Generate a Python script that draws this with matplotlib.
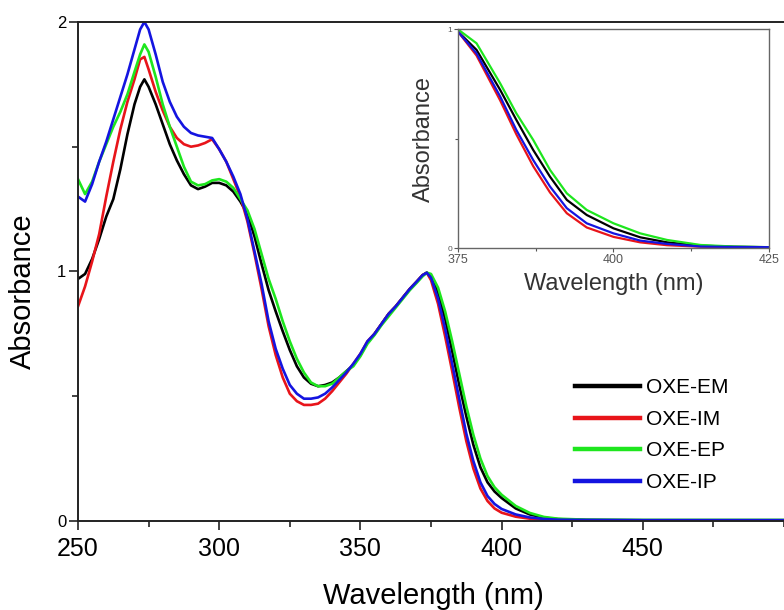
"""UV-vis absorbance spectra of the OXE compounds, with a zoomed inset of the band edge."""
import matplotlib
matplotlib.use("Agg")
import matplotlib.pyplot as plt
from matplotlib.ticker import MultipleLocator

plt.rcParams["font.family"] = ["Liberation Sans", "DejaVu Sans"]

# main spectra (absorbance)
wavelength = [250, 252.5, 255, 257.5, 260, 262.5, 265, 267.5, 270, 272, 273.5, 275, 277.5,
              280, 282.5, 285, 287.5, 290, 292.5, 295, 297.5, 300, 302.5, 305, 307.5, 310,
              312.5, 315, 317.5, 320, 322.5, 325, 327.5, 330, 332.5, 335, 337.5, 340, 342.5,
              345, 347.5, 350, 352.5, 355, 357.5, 360, 362.5, 365, 367.5, 370, 372, 373.5,
              375, 377.5, 380, 382.5, 385, 387.5, 390, 392.5, 395, 397.5, 400, 405, 410,
              415, 420, 430, 450, 475, 500]

oxe_em = [0.97, 0.99, 1.05, 1.13, 1.22, 1.29, 1.41, 1.55, 1.67, 1.74, 1.77, 1.74, 1.67,
          1.59, 1.51, 1.445, 1.39, 1.345, 1.33, 1.34, 1.355, 1.355, 1.345, 1.32, 1.28, 1.23,
          1.14, 1.03, 0.925, 0.84, 0.76, 0.685, 0.62, 0.575, 0.55, 0.54, 0.545, 0.555, 0.575,
          0.60, 0.625, 0.665, 0.715, 0.75, 0.79, 0.83, 0.86, 0.895, 0.93, 0.96, 0.985, 0.995,
          0.98, 0.915, 0.81, 0.68, 0.545, 0.42, 0.305, 0.215, 0.155, 0.118, 0.092, 0.05, 0.026,
          0.013, 0.007, 0.004, 0.003, 0.003, 0.003]

oxe_im = [0.86, 0.94, 1.04, 1.15, 1.30, 1.44, 1.57, 1.68, 1.77, 1.85, 1.86, 1.81, 1.72,
          1.645, 1.58, 1.535, 1.51, 1.50, 1.505, 1.515, 1.53, 1.49, 1.44, 1.37, 1.30, 1.20,
          1.07, 0.93, 0.78, 0.665, 0.575, 0.51, 0.48, 0.465, 0.465, 0.47, 0.49, 0.52, 0.555,
          0.59, 0.63, 0.67, 0.72, 0.75, 0.79, 0.83, 0.86, 0.895, 0.93, 0.96, 0.985, 0.995,
          0.965, 0.87, 0.74, 0.60, 0.455, 0.32, 0.21, 0.13, 0.08, 0.05, 0.033, 0.017, 0.009,
          0.005, 0.003, 0.002, 0.002, 0.002, 0.002]

oxe_ep = [1.37, 1.31, 1.36, 1.44, 1.51, 1.58, 1.64, 1.71, 1.80, 1.87, 1.91, 1.88, 1.78,
          1.67, 1.58, 1.50, 1.42, 1.36, 1.345, 1.35, 1.365, 1.37, 1.36, 1.335, 1.29, 1.245,
          1.17, 1.07, 0.97, 0.89, 0.80, 0.72, 0.65, 0.595, 0.555, 0.54, 0.54, 0.55, 0.575,
          0.60, 0.62, 0.66, 0.71, 0.745, 0.785, 0.82, 0.855, 0.89, 0.925, 0.955, 0.98, 0.995,
          0.99, 0.935, 0.84, 0.72, 0.59, 0.46, 0.345, 0.25, 0.18, 0.135, 0.105, 0.06, 0.032,
          0.016, 0.009, 0.005, 0.004, 0.004, 0.004]

oxe_ip = [1.30, 1.28, 1.35, 1.44, 1.52, 1.61, 1.70, 1.79, 1.89, 1.97, 2.00, 1.97, 1.87,
          1.76, 1.68, 1.62, 1.58, 1.555, 1.545, 1.54, 1.535, 1.49, 1.44, 1.38, 1.31, 1.21,
          1.08, 0.95, 0.80, 0.69, 0.61, 0.545, 0.51, 0.49, 0.49, 0.495, 0.51, 0.535, 0.565,
          0.595, 0.63, 0.67, 0.72, 0.75, 0.79, 0.83, 0.86, 0.895, 0.93, 0.96, 0.985, 0.995,
          0.975, 0.89, 0.77, 0.63, 0.49, 0.35, 0.24, 0.155, 0.10, 0.068, 0.048, 0.026, 0.014,
          0.008, 0.005, 0.004, 0.003, 0.003, 0.003]

# inset: normalised band edge
inset_wl = [375, 378, 381.8, 384.4, 387.1, 389.8, 392.5, 395.7, 400, 404.3, 408.6, 414, 419.3, 425]
inset_em = [0.99, 0.906, 0.723, 0.586, 0.449, 0.327, 0.221, 0.152, 0.091, 0.05, 0.027, 0.012, 0.007, 0.005]
inset_im = [0.99, 0.88, 0.675, 0.52, 0.375, 0.255, 0.16, 0.095, 0.052, 0.027, 0.014, 0.007, 0.005, 0.004]
inset_ep = [1.0, 0.936, 0.753, 0.616, 0.495, 0.358, 0.251, 0.175, 0.114, 0.068, 0.038, 0.015, 0.008, 0.005]
inset_ip = [0.99, 0.89, 0.693, 0.54, 0.403, 0.282, 0.183, 0.114, 0.068, 0.035, 0.02, 0.008, 0.006, 0.005]

labels = ["OXE-EM", "OXE-IM", "OXE-EP", "OXE-IP"]
colours = ["#000000", "#e8141a", "#1ee61e", "#1414e0"]


def main() -> None:
    fig = plt.figure(figsize=(7.84, 6.10), dpi=100)
    ax = fig.add_axes([0.0995, 0.146, 0.9005, 0.818])

    for ys, lab, c in zip([oxe_em, oxe_im, oxe_ep, oxe_ip], labels, colours):
        ax.plot(wavelength, ys, color=c, lw=1.9, label=lab)

    ax.set_xlim(250, 500)
    ax.set_ylim(0, 2)
    ax.xaxis.set_major_locator(MultipleLocator(50))
    ax.xaxis.set_minor_locator(MultipleLocator(25))
    ax.yaxis.set_major_locator(MultipleLocator(1))
    ax.yaxis.set_minor_locator(MultipleLocator(0.5))
    ax.set_xticks([250, 300, 350, 400, 450])
    ax.tick_params(which="both", direction="out", width=1.2, color="#222222")
    ax.tick_params(which="major", length=6.5)
    ax.tick_params(which="minor", length=4.5)
    ax.tick_params(axis="x", labelsize=18, pad=5)
    ax.tick_params(axis="y", labelsize=12, pad=2)
    ax.spines["right"].set_visible(False)
    for s in ("left", "bottom", "top"):
        ax.spines[s].set_linewidth(1.4)
        ax.spines[s].set_color("#222222")

    ax.set_xlabel("Wavelength (nm)", fontsize=21)
    ax.set_ylabel("Absorbance", fontsize=21)
    ax.xaxis.set_label_coords(0.503, -0.122)
    ax.yaxis.set_label_coords(-0.058, 0.46)

    ax.legend(loc="center left", bbox_to_anchor=(0.704, 0.172), frameon=False,
              fontsize=15, handlelength=3.1, handletextpad=0.3, labelspacing=0.6,
              borderpad=0, borderaxespad=0)
    for line in ax.get_legend().get_lines():
        line.set_linewidth(3.2)

    # inset
    ins = fig.add_axes([0.584, 0.593, 0.397, 0.359])
    for ys, c in zip([inset_em, inset_im, inset_ep, inset_ip], colours):
        ins.plot(inset_wl, ys, color=c, lw=1.6)
    ins.set_xlim(375, 425)
    ins.set_ylim(0, 1)
    ins.set_xticks([375, 400, 425])
    ins.xaxis.set_minor_locator(MultipleLocator(12.5))
    ins.set_yticks([0, 1])
    ins.yaxis.set_minor_locator(MultipleLocator(0.5))
    ins.tick_params(which="both", direction="out", width=0.8, color="#555555",
                    labelcolor="#555555")
    ins.tick_params(which="major", length=3)
    ins.tick_params(which="minor", length=2)
    ins.tick_params(axis="x", labelsize=9, pad=1)
    ins.tick_params(axis="y", labelsize=6, pad=1)
    for s in ins.spines.values():
        s.set_color("#666666")
        s.set_linewidth(1.0)
    ins.set_xlabel("Wavelength (nm)", fontsize=17, color="#333333")
    ins.set_ylabel("Absorbance", fontsize=17, color="#333333")
    ins.xaxis.set_label_coords(0.5, -0.115)
    ins.yaxis.set_label_coords(-0.075, 0.5)

    fig.savefig("out.png", dpi=100)
    plt.close(fig)


if __name__ == "__main__":
    main()
